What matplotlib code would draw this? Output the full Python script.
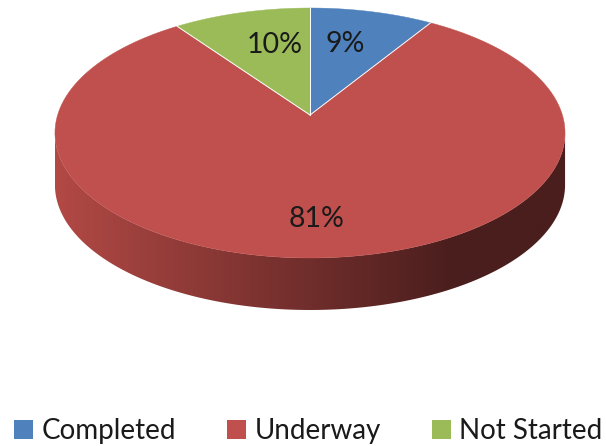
import numpy as np
import matplotlib
matplotlib.use("Agg")
import matplotlib.pyplot as plt
from matplotlib.patches import Polygon, Patch

labels = ["Completed", "Underway", "Not Started"]
values = [9, 81, 10]
colors = ["#4F81BD", "#C0504D", "#9BBB59"]

plt.rcParams["font.family"] = ["Lato", "DejaVu Sans"]

W, H = 606, 446
fig = plt.figure(figsize=(W / 100, H / 100), dpi=100)
ax = fig.add_axes([0, 0, 1, 1])
ax.set_xlim(0, W)
ax.set_ylim(H, 0)
ax.axis("off")

# tilted disc with a bit of perspective (pixel space)
cx, y0, a, b, p, depth = 310, 115, 252.4, 122.4, 0.144, 52


def proj(t, r=1.0):
    # t: degrees clockwise from 12 o'clock, r: fraction of radius
    t = np.radians(t)
    u, v = r * np.sin(t), r * np.cos(t)
    d = 1 + p * v
    return cx + a * u / d, y0 - b * v / d


fr = np.array(values) / sum(values)
edges = np.concatenate([[0], np.cumsum(fr) * 360])

# side wall: front part of the rim, between the left/right extremes
t0 = np.degrees(np.arccos(-p))
t = np.linspace(t0, 360 - t0, 300)
xt, yt = proj(t)
side = np.column_stack([np.concatenate([xt, xt[::-1]]),
                        np.concatenate([yt, yt[::-1] + depth])])
side_poly = Polygon(side, closed=True, facecolor="none", edgecolor="none")
ax.add_patch(side_poly)
xs = np.linspace(0, 1, 400)
light = np.array([178, 73, 69]) / 255
dark = np.array([74, 30, 29]) / 255
k = np.clip(xs / 0.78, 0, 1)[:, None]
grad = (light * (1 - k) + dark * k)[None, :, :]
im = ax.imshow(grad, extent=[xt.min(), xt.max(), yt.max() + depth + 2, yt.min() - 2],
               aspect="auto", interpolation="bilinear", zorder=1)
im.set_clip_path(side_poly)

# top face wedges
for i in range(len(values)):
    tt = np.linspace(edges[i], edges[i + 1], 150)
    x, y = proj(tt)
    pts = np.column_stack([np.concatenate([[cx], x]), np.concatenate([[y0], y])])
    ax.add_patch(Polygon(pts, closed=True, facecolor=colors[i],
                         edgecolor=colors[i], linewidth=0.3, zorder=2))

# thin white separators between slices
for e in edges[:-1]:
    ex, ey = proj(e)
    ax.plot([cx, ex], [y0, ey], color="white", lw=0.7, zorder=3)

# percentage labels
for i, v in enumerate(values):
    mid = (edges[i] + edges[i + 1]) / 2
    lx, ly = proj(mid, 0.72)
    lx = cx + (lx - cx) * 0.72 + 2
    ax.text(lx, ly + 6, f"{v}%", ha="center", va="center", fontsize=20.5,
            color="#1a1a1a", zorder=4)

handles = [Patch(facecolor=c, edgecolor="none") for c in colors]
fig.legend(handles, labels, loc="lower center", ncol=3, frameon=False,
           bbox_to_anchor=(308.5 / W, 0.004), borderaxespad=0, borderpad=0,
           fontsize=20, handlelength=0.68, handleheight=0.68,
           handletextpad=0.3, columnspacing=1.85, labelcolor="#1a1a1a")

fig.savefig("out.png", dpi=100)
